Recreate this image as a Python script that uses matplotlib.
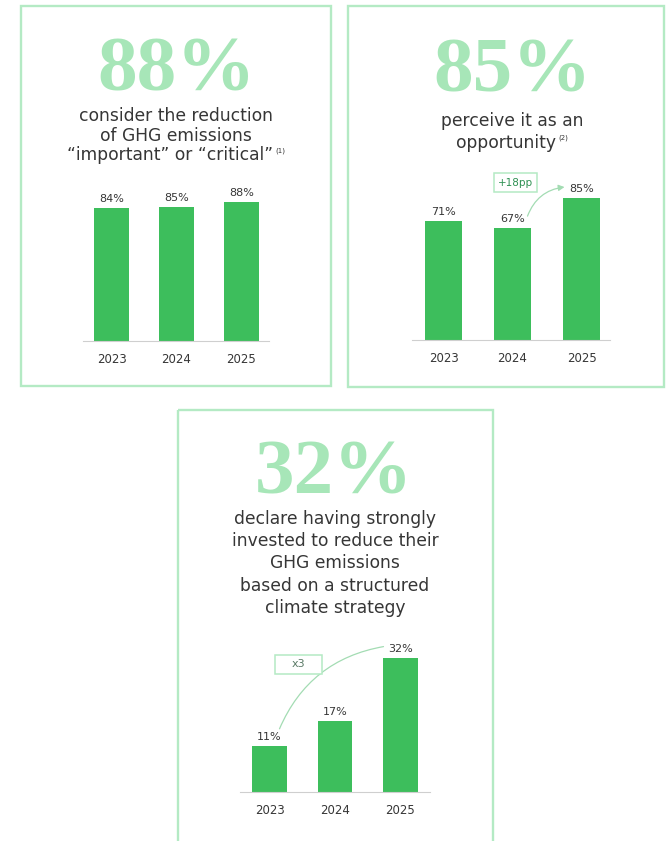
import matplotlib.pyplot as plt
from matplotlib.patches import Rectangle
from matplotlib.transforms import Affine2D, ScaledTranslation, offset_copy

W, H, DPI = 666, 841, 100

years = ['2023', '2024', '2025']
important_pct = [84, 85, 88]
opportunity_pct = [71, 67, 85]
invested_pct = [11, 17, 32]

headline = ['88%', '85%', '32%']
sub_important = ['consider the reduction', 'of GHG emissions',
                 '\u201cimportant\u201d or \u201ccritical\u201d']
sub_opportunity = ['perceive it as an', 'opportunity']
sub_invested = ['declare having strongly', 'invested to reduce their',
                'GHG emissions', 'based on a structured', 'climate strategy']

BAR = '#3dbe5c'
BIG = '#a7e6b8'
BORDER = '#b4eac4'
CURVE = '#a3dcb3'
TEXT = '#363636'
SANS = 'DejaVu Sans'

fig = plt.figure(figsize=(W / DPI, H / DPI), dpi=DPI)
fig.patch.set_facecolor('white')

# full-figure overlay in pixel units (y downwards) for frames and headings
bg = fig.add_axes([0, 0, 1, 1])
bg.set_xlim(0, W)
bg.set_ylim(H, 0)
bg.axis('off')

for x0, y0, x1, y1 in [(21, 6, 331, 386), (348, 6, 664, 387), (178, 410, 493, 850)]:
    bg.add_patch(Rectangle((x0, y0), x1 - x0, y1 - y0, fill=False,
                           ec=BORDER, lw=1.7, clip_on=False))

renderer = fig.canvas.get_renderer()


def big_number(cx, base, s):
    bg.text(cx, base, s, ha='center', va='baseline', color=BIG,
            family='Liberation Serif', weight='bold', fontsize=57)


def subtitle(cx, base, lines, step, note=None):
    for i, s in enumerate(lines):
        y = base + i * step
        t = bg.text(cx, y, s, ha='center', va='baseline', color=TEXT,
                    family=SANS, fontsize=12.3)
        if note and i == len(lines) - 1:
            n = bg.text(0, y - 8, note, ha='left', va='baseline', color=TEXT,
                        family=SANS, fontsize=5)
            wm = t.get_window_extent(renderer).width
            wn = n.get_window_extent(renderer).width
            x0 = cx - (wm + 2 + wn) / 2
            t.set_ha('left')
            t.set_x(x0)
            n.set_x(x0 + wm + 2)


big_number(177, 90, headline[0])
big_number(513, 91, headline[1])
big_number(334, 493, headline[2])

subtitle(176, 121, sub_important, 19.5, note='(1)')
subtitle(512, 126, sub_opportunity, 21.5, note='(2)')
subtitle(335, 524, sub_invested, 22.2)


def bar_panel(values, c0, step, left, right, base, scale, ymax):
    top = base - ymax * scale
    ax = fig.add_axes([left / W, 1 - base / H, (right - left) / W, (base - top) / H])
    ax.set_facecolor('none')
    ax.bar(range(len(values)), values, width=0.53, color=BAR)
    ax.set_xlim((left - c0) / step, (right - c0) / step)
    ax.set_ylim(0, ymax)
    for side in ['top', 'left', 'right']:
        ax.spines[side].set_visible(False)
    ax.spines['bottom'].set_color('#cfcfcf')
    ax.spines['bottom'].set_linewidth(0.8)
    ax.set_yticks([])
    ax.set_xticks(range(len(values)), years)
    ax.tick_params(axis='x', length=0, pad=8.5, labelsize=8.5, labelcolor=TEXT)
    for i, v in enumerate(values):
        ax.annotate(f'{v}%', (i, v), xytext=(0, 6), textcoords='offset pixels',
                    ha='center', va='baseline', fontsize=8, color=TEXT,
                    family=SANS, annotation_clip=False)
    return ax


def growth_curve(ax, start, end, d0, d1, rad, head):
    t0 = offset_copy(ax.transData, fig=fig, x=d0[0], y=d0[1], units='dots')
    t1 = offset_copy(ax.transData, fig=fig, x=d1[0], y=d1[1], units='dots')
    style = '-|>,head_length=0.35,head_width=0.18' if head else '-'
    ax.annotate('', xy=end, xycoords=t1, xytext=start, textcoords=t0,
                annotation_clip=False,
                arrowprops=dict(arrowstyle=style, connectionstyle=f'arc3,rad={rad}',
                                color=CURVE, lw=0.9, shrinkA=0, shrinkB=0))


def tag(ax, x, y, s, w, h, color, size):
    # framed label of fixed pixel size centred on a data point
    box_tr = Affine2D().translate(-w / 2, -h / 2) + ScaledTranslation(x, y, ax.transData)
    ax.add_patch(Rectangle((0, 0), w, h, transform=box_tr, fc='white',
                           ec=BORDER, lw=1.1, clip_on=False, zorder=3))
    ax.text(x, y, s, ha='center', va='center', fontsize=size, color=color,
            family=SANS, clip_on=False, zorder=4)


ax1 = bar_panel(important_pct, 111.5, 65, 83, 269, 341, 1.58, 100)

ax2 = bar_panel(opportunity_pct, 443.5, 69, 412, 610, 340, 1.67, 100)
growth_curve(ax2, (1, opportunity_pct[1]), (2, opportunity_pct[2]), (15, 12), (-17, 11), -0.3, True)
tag(ax2, 1.05, 94.2, '+18pp', 43, 19, '#2f9153', 7.5)

ax3 = bar_panel(invested_pct, 269.5, 65.5, 240, 430, 792, 4.2, 40)
growth_curve(ax3, (0, invested_pct[0]), (2, invested_pct[2]), (10, 17), (-17, 11), -0.27, False)
tag(ax3, 0.44, 30.4, 'x3', 47, 19, '#5a7a66', 8)

fig.savefig('out.png', dpi=DPI, facecolor='white')
